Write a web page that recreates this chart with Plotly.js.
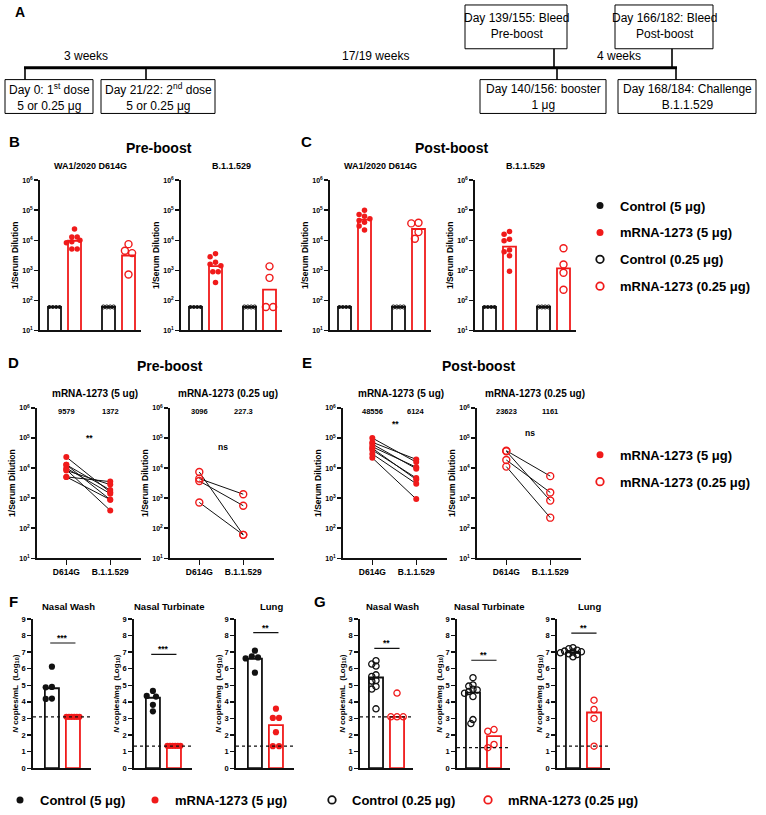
<!DOCTYPE html>
<html><head><meta charset="utf-8">
<script src="https://cdn.plot.ly/plotly-3.0.1.min.js"></script>
<style>html,body{margin:0;padding:0;background:#fff}#chart{width:766px;height:815px}</style>
</head><body><div id="chart"></div>
<script>
// ================= DATA =================
// Panel A – study timeline (labels)
const weekLabels = ['3 weeks', '17/19 weeks', '4 weeks'];
const eventsBelow = ['Day 0: 1<sup>st</sup> dose<br>5 or 0.25 μg', 'Day 21/22: 2<sup>nd</sup> dose<br>5 or 0.25 μg', 'Day 140/156: booster<br>1 μg', 'Day 168/184: Challenge<br>B.1.1.529'];
const eventsAbove = ['Day 139/155: Bleed<br>Pre-boost', 'Day 166/182: Bleed<br>Post-boost'];

// Groups
const groupNames = ['Control (5 μg)', 'mRNA-1273 (5 μg)', 'Control (0.25 μg)', 'mRNA-1273 (0.25 μg)'];

// Panels B–E: neutralizing titers (1/serum dilution)
const lodTiter = 60;
const ctrl5Titers = [60, 60, 60, 60];
const ctrl025Titers = [60, 60, 60, 60];
const pre5_D614G = [23400, 12900, 12900, 10000, 8900, 8300, 5100, 5100];
const pre5_B11529 = [1585, 891, 1862, 1413, 389, 2818, 3548, 891];
const pre025_D614G = [7400, 4470, 3720, 720];
const pre025_B11529 = [60, 1350, 560, 60];
const post5_D614G = [100000, 72400, 63100, 51300, 45700, 39800, 29500, 21900];
const post5_B11529 = [15800, 19500, 9550, 10700, 4170, 4680, 3020, 930];
const post025_D614G = [38000, 36300, 18600, 11200];
const post025_B11529 = [5400, 830, 1550, 224];
// geometric mean titers: [Control 5, mRNA 5, Control 0.25, mRNA 0.25]
const gmtPre_D614G = [60, 9579, 60, 3096];
const gmtPre_B11529 = [60, 1372, 60, 227.3];
const gmtPost_D614G = [60, 48556, 60, 23623];
const gmtPost_B11529 = [60, 6124, 60, 1161];
const variantTicks = ['D614G', 'B.1.1.529'];
const sigDE = ['**', 'ns', '**', 'ns'];
const sigDEHeights = [69000, 26300, 204000, 81000];

// Panels F (5 μg) and G (0.25 μg): N copies (log10)
const tissues = ['Nasal Wash', 'Nasal Turbinate', 'Lung'];
const tissueUnits = ['mL', 'mg', 'mg'];
const nwCtrl5 = [6.12, 4.90, 4.88, 4.20, 4.18];
const nwMrna5 = [3.10, 3.10, 3.10, 3.10, 3.10, 3.10];
const ntCtrl5 = [4.66, 4.36, 4.32, 3.82, 3.43];
const ntMrna5 = [1.35, 1.35, 1.35, 1.35, 1.35, 1.35];
const lungCtrl5 = [7.09, 6.75, 6.68, 6.62, 5.76];
const lungMrna5 = [3.59, 3.03, 3.03, 2.17, 1.33, 1.33];
const barsF_NW = [4.82, 3.10], barsF_NT = [4.25, 1.35], barsF_Lung = [6.60, 2.60];
const lodF = [3.10, 1.33, 1.33];
const sigF = ['***', '***', '**'];
const sigFHeights = [7.55, 6.87, 8.17];

const nwCtrl025 = [6.48, 6.28, 6.16, 5.63, 5.53, 5.29, 5.25, 4.93, 4.77, 3.58];
const nwMrna025 = [4.53, 3.10, 3.10, 3.10];
const ntCtrl025 = [5.46, 5.02, 4.95, 4.76, 4.72, 4.62, 4.52, 4.32, 2.93, 2.69];
const ntMrna025 = [2.33, 2.23, 1.43, 1.24];
const lungCtrl025 = [7.27, 7.20, 7.12, 7.06, 7.02, 7.00, 6.96, 6.90, 6.85, 6.72];
const lungMrna025 = [4.10, 3.54, 3.00, 1.33];
const barsG_NW = [5.47, 3.10], barsG_NT = [4.56, 1.93], barsG_Lung = [6.98, 3.36];
const lodG = [3.10, 1.24, 1.33];
const sigG = ['**', '**', '**'];
const sigGHeights = [7.22, 6.51, 8.15];

// ================= STYLE / LAYOUT =================
const W = 766, H = 815;
const fx = p => p / W, fy = p => 1 - p / H;
const RED = '#f01a1a', BLK = '#111111';
const FB = 'Liberation Sans, Arial, Helvetica, sans-serif';

const data = [];
const layout = {
  width: W, height: H, margin: {l: 0, r: 0, t: 0, b: 0},
  paper_bgcolor: '#ffffff', plot_bgcolor: 'rgba(0,0,0,0)',
  font: {family: FB, color: '#000'}, showlegend: true,
  shapes: [], annotations: []
};
let nAx = 0;
function makeAxes(xpx, ypx, xo, yo) {
  nAx++;
  const s = nAx === 1 ? '' : String(nAx);
  const common = {showline: true, linecolor: BLK, linewidth: 1.8, showgrid: false, zeroline: false,
    ticks: 'outside', tickcolor: BLK, tickwidth: 1.4, ticklen: 4, fixedrange: true};
  layout['xaxis' + s] = Object.assign({}, common, {domain: [fx(xpx[0]), fx(xpx[1])], anchor: 'y' + s}, xo);
  layout['yaxis' + s] = Object.assign({}, common, {domain: [fy(ypx[1]), fy(ypx[0])], anchor: 'x' + s}, yo);
  return {x: 'x' + s, y: 'y' + s};
}
function ann(text, xpx, ypx, size, extra) {
  layout.annotations.push(Object.assign({text: text, xref: 'paper', yref: 'paper', x: fx(xpx), y: fy(ypx),
    xanchor: 'center', yanchor: 'middle', showarrow: false,
    font: {family: FB, size: size, color: '#000', weight: 'bold'}}, extra || {}));
}
// beeswarm horizontal offsets (px)
function swarm(vals, toPx, sep, maxW) {
  const order = vals.map((v, i) => i).sort((a, b) => vals[b] - vals[a]);
  const placed = [], off = new Array(vals.length).fill(0);
  order.forEach(i => {
    const py = toPx(vals[i]);
    for (let k = 0; k < 80; k++) {
      const c = k === 0 ? 0 : (k % 2 ? -1 : 1) * Math.ceil(k / 2) * sep / 2;
      if (placed.every(p => Math.hypot(p[0] - c, p[1] - py) >= sep - 0.01)) { off[i] = c; placed.push([c, py]); break; }
    }
  });
  const seen = {};
  vals.forEach((v, i) => { (seen[v] = seen[v] || []).push(i); });
  Object.values(seen).forEach(ids => {
    if (ids.length < 2) return;
    const n = ids.length, step = Math.min(sep, maxW / (n - 1 || 1));
    ids.forEach((id, j) => { off[id] = (j - (n - 1) / 2) * step; });
  });
  return off;
}
const lg = v => Math.log10(v);

// ---------- Panel A ----------
const lineA = (x0, y0, x1, y1, w) => layout.shapes.push({type: 'line', xref: 'paper', yref: 'paper',
  x0: fx(x0), y0: fy(y0), x1: fx(x1), y1: fy(y1), line: {color: '#000', width: w}});
const rectA = (x0, y0, x1, y1) => layout.shapes.push({type: 'rect', xref: 'paper', yref: 'paper',
  x0: fx(x0), y0: fy(y0), x1: fx(x1), y1: fy(y1), line: {color: '#000', width: 1}, fillcolor: 'rgba(0,0,0,0)'});
const aFont = {family: FB, size: 12, color: '#000'};
ann('A', 20, 12, 14);
lineA(24, 68, 677, 68, 3);
const belowBoxes = [[5, 93, 25], [101, 215, 146], [480, 606, 557], [618, 756, 676]];
belowBoxes.forEach((b, i) => {
  lineA(b[2], 68, b[2], 80, 1.6);
  rectA(b[0], 80, b[1], 114);
  ann(eventsBelow[i], (b[0] + b[1]) / 2, 97, 12, {font: aFont});
});
const aboveBoxes = [[465, 567, 554], [615, 713, 672]];
aboveBoxes.forEach((b, i) => {
  lineA(b[2], 49, b[2], 68, 1.6);
  rectA(b[0], 5, b[1], 49);
  ann(eventsAbove[i], (b[0] + b[1]) / 2, 26, 12, {font: aFont});
});
[[86, 56], [375, 56], [619, 56]].forEach((p, i) => ann(weekLabels[i], p[0], p[1], 12, {font: aFont}));

// ---------- Panels B & C ----------
const logTicks = {type: 'log', range: [1, 6], tickvals: [10, 100, 1e3, 1e4, 1e5, 1e6],
  ticktext: [1, 2, 3, 4, 5, 6].map(e => '10<sup>' + e + '</sup>')};
const groupX = [0, 1, 2.7, 3.7];
const gStyle = [
  {color: BLK, symbol: 'circle', size: 3.8, lw: 0, sep: 3.4},
  {color: RED, symbol: 'circle', size: 5.5, lw: 0, sep: 5.4},
  {color: BLK, symbol: 'circle-open', size: 4, lw: 1, sep: 3.4},
  {color: RED, symbol: 'circle-open', size: 7, lw: 1.4, sep: 7.2}
];
const row1Y = [181, 332];
const row1 = [
  {t: 'WA1/2020 D614G', px: [40, 141], g: [ctrl5Titers, pre5_D614G, ctrl025Titers, pre025_D614G], gmt: gmtPre_D614G},
  {t: 'B.1.1.529', px: [181, 282], g: [ctrl5Titers, pre5_B11529, ctrl025Titers, pre025_B11529], gmt: gmtPre_B11529},
  {t: 'WA1/2020 D614G', px: [330, 431], g: [ctrl5Titers, post5_D614G, ctrl025Titers, post025_D614G], gmt: gmtPost_D614G},
  {t: 'B.1.1.529', px: [475, 576], g: [ctrl5Titers, post5_B11529, ctrl025Titers, post025_B11529], gmt: gmtPost_B11529}
];
const ppdLog1 = (row1Y[1] - row1Y[0]) / 5;
row1.forEach(p => {
  const ax = makeAxes(p.px, row1Y, {range: [-0.725, 4.325], showticklabels: false, ticks: ''},
    Object.assign({}, logTicks, {tickfont: {family: FB, size: 7, weight: 'bold'},
      title: {text: '1/Serum Dilution', font: {family: FB, size: 8.5, weight: 'bold'}, standoff: 2}}));
  const pxPerUnit = (p.px[1] - p.px[0]) / 5.05;
  data.push({type: 'bar', xaxis: ax.x, yaxis: ax.y, x: groupX, y: p.gmt, width: 0.65, showlegend: false,
    marker: {color: 'rgba(255,255,255,0)', line: {color: [BLK, RED, BLK, RED], width: 1.8}}, hoverinfo: 'skip'});
  layout.shapes.push({type: 'line', xref: ax.x + ' domain', yref: ax.y, x0: 0, x1: 1, y0: lg(lodTiter), y1: lg(lodTiter),
    line: {color: BLK, width: 1.3, dash: 'dot'}});
  p.g.forEach((vals, gi) => {
    const st = gStyle[gi];
    const off = swarm(vals, v => lg(v) * ppdLog1, st.sep, 12);
    data.push({type: 'scatter', mode: 'markers', xaxis: ax.x, yaxis: ax.y, cliponaxis: false, showlegend: false,
      x: vals.map((v, i) => groupX[gi] + off[i] / pxPerUnit), y: vals,
      marker: {color: st.color, symbol: st.symbol, size: st.size, line: {color: st.color, width: st.lw}}});
  });
  ann(p.t, (p.px[0] + p.px[1]) / 2, 167, 9);
});
ann('B', 14, 142, 15); ann('C', 306, 142, 15);
ann('Pre-boost', 159, 149, 14); ann('Post-boost', 451, 149, 14);

// ---------- Panels D & E ----------
const row2Y = [410, 561];
const row2 = [
  {t: 'mRNA-1273 (5 ug)', px: [37, 141], a: pre5_D614G, b: pre5_B11529, ga: gmtPre_D614G[1], gb: gmtPre_B11529[1], st: gStyle[1]},
  {t: 'mRNA-1273 (0.25 ug)', px: [170, 274], a: pre025_D614G, b: pre025_B11529, ga: gmtPre_D614G[3], gb: gmtPre_B11529[3], st: gStyle[3]},
  {t: 'mRNA-1273 (5 ug)', px: [343, 447], a: post5_D614G, b: post5_B11529, ga: gmtPost_D614G[1], gb: gmtPost_B11529[1], st: gStyle[1]},
  {t: 'mRNA-1273 (0.25 ug)', px: [477, 581], a: post025_D614G, b: post025_B11529, ga: gmtPost_D614G[3], gb: gmtPost_B11529[3], st: gStyle[3]}
];
row2.forEach((p, k) => {
  const ax = makeAxes(p.px, row2Y,
    {range: [-0.667, 1.70], tickvals: [0, 1], ticktext: variantTicks, ticklen: 5,
      tickfont: {family: FB, size: 8.5, weight: 'bold'}},
    Object.assign({}, logTicks, {tickfont: {family: FB, size: 7, weight: 'bold'},
      title: {text: '1/Serum Dilution', font: {family: FB, size: 8.5, weight: 'bold'}, standoff: 2}}));
  const lx = [], ly = [];
  p.a.forEach((v, i) => { lx.push(0, 1, null); ly.push(v, p.b[i], null); });
  data.push({type: 'scatter', mode: 'lines', xaxis: ax.x, yaxis: ax.y, x: lx, y: ly, showlegend: false,
    line: {color: BLK, width: 1}, hoverinfo: 'skip'});
  const sz = p.st.symbol === 'circle' ? 6 : 7;
  data.push({type: 'scatter', mode: 'markers', xaxis: ax.x, yaxis: ax.y, cliponaxis: false, showlegend: false,
    x: p.a.map(() => 0).concat(p.b.map(() => 1)), y: p.a.concat(p.b),
    marker: {color: p.st.color, symbol: p.st.symbol, size: sz, line: {color: p.st.color, width: p.st.lw}}});
  layout.shapes.push({type: 'line', xref: ax.x + ' domain', yref: ax.y, x0: 0, x1: 0.83, y0: lg(lodTiter), y1: lg(lodTiter),
    line: {color: BLK, width: 1.3, dash: 'dot'}});
  layout.shapes.push({type: 'line', xref: ax.x, yref: ax.y, x0: 0.1, x1: 0.97, y0: lg(sigDEHeights[k]), y1: lg(sigDEHeights[k]),
    line: {color: BLK, width: 1.2}});
  layout.annotations.push({xref: ax.x, yref: ax.y, x: 0.53, y: lg(sigDEHeights[k]), yanchor: 'bottom', yshift: sigDE[k] === 'ns' ? 1 : -2,
    text: sigDE[k], showarrow: false, font: {family: FB, size: 8.5, weight: 'bold', color: '#000'}});
  [p.ga, p.gb].forEach((g, j) => layout.annotations.push({xref: ax.x, yref: ax.y, x: j, y: 5.88, text: String(g),
    showarrow: false, font: {family: FB, size: 7.5, weight: 'bold', color: '#000'}}));
  ann(p.t, (p.px[0] + p.px[1]) / 2 + 6, 395, 10);
});
ann('D', 13, 364, 15); ann('E', 307, 364, 15);
ann('Pre-boost', 170, 368, 14); ann('Post-boost', 479, 368, 14);

// ---------- Panels F & G ----------
const row3Y = [622, 772];
const ppu3 = (row3Y[1] - row3Y[0]) / 9;
const fPanels = [
  {px: [33, 91], c: nwCtrl5, m: nwMrna5, bars: barsF_NW},
  {px: [134, 192], c: ntCtrl5, m: ntMrna5, bars: barsF_NT},
  {px: [236, 294], c: lungCtrl5, m: lungMrna5, bars: barsF_Lung}
];
const gPanels = [
  {px: [360, 413], c: nwCtrl025, m: nwMrna025, bars: barsG_NW},
  {px: [457, 510], c: ntCtrl025, m: ntMrna025, bars: barsG_NT},
  {px: [557, 610], c: lungCtrl025, m: lungMrna025, bars: barsG_Lung}
];
function drawRow3(panels, isF, lods, sigs, sigH) {
  panels.forEach((p, k) => {
    const lo = isF ? -0.9 : -0.76;
    const hi = isF ? 1.86 : 1.76;
    const ax = makeAxes(p.px, row3Y, {range: [lo, hi], showticklabels: false, ticks: ''},
      {range: [0, 9], dtick: 1, tick0: 0, tickfont: {family: FB, size: 7.5, weight: 'bold'},
        title: {text: '<i>N</i> copies/' + tissueUnits[k] + '  (Log<sub>10</sub>)', font: {family: FB, size: 8, weight: 'bold'}, standoff: 2}});
    const pxPerUnit = (p.px[1] - p.px[0]) / (hi - lo);
    data.push({type: 'bar', xaxis: ax.x, yaxis: ax.y, x: [0, 1], y: p.bars, width: 0.67, showlegend: false,
      marker: {color: 'rgba(255,255,255,0)', line: {color: [BLK, RED], width: 1.8}}, hoverinfo: 'skip'});
    layout.shapes.push({type: 'line', xref: ax.x + ' domain', yref: ax.y, x0: 0, x1: 1, y0: lods[k], y1: lods[k],
      line: {color: BLK, width: 1.3, dash: 'dot'}});
    const sC = isF ? gStyle[0] : gStyle[2], sM = isF ? gStyle[1] : gStyle[3];
    [[p.c, sC, 0, isF ? 6.2 : 4.2], [p.m, sM, 1, 6.2]].forEach(([vals, st, xi, sep]) => {
      const off = swarm(vals, v => v * ppu3, sep, 13);
      data.push({type: 'scatter', mode: 'markers', xaxis: ax.x, yaxis: ax.y, cliponaxis: false, showlegend: false,
        x: vals.map((v, i) => xi + off[i] / pxPerUnit), y: vals,
        marker: {color: st.color, symbol: st.symbol, size: 6.2, line: {color: st.color, width: st.lw ? 1.3 : 0}}});
    });
    layout.shapes.push({type: 'line', xref: ax.x, yref: ax.y, x0: -0.08, x1: 1.12, y0: sigH[k], y1: sigH[k],
      line: {color: BLK, width: 1.2}});
    layout.annotations.push({xref: ax.x, yref: ax.y, x: 0.52, y: sigH[k], yanchor: 'bottom', yshift: -2,
      text: sigs[k], showarrow: false, font: {family: FB, size: 8.5, weight: 'bold', color: '#000'}});
    ann(tissues[k], (p.px[0] + p.px[1]) / 2 + 6, 609, 9.5);
  });
}
drawRow3(fPanels, true, lodF, sigF, sigFHeights);
drawRow3(gPanels, false, lodG, sigG, sigGHeights);
ann('F', 13, 604, 15); ann('G', 320, 604, 15);

// ---------- Legends ----------
const legFont = {family: FB, size: 13, color: '#000', weight: 'bold'};
function legTrace(name, gi, legend) {
  const st = gStyle[gi];
  data.push({type: 'scatter', mode: 'markers', x: [null], y: [null], xaxis: 'x', yaxis: 'y', name: name,
    legend: legend, legendgroup: legend + gi, showlegend: true,
    marker: {color: st.color, symbol: st.symbol, size: st.symbol === 'circle' ? 7 : 7.5, line: {color: st.color, width: st.lw ? 1.8 : 0}}});
}
groupNames.forEach((n, i) => legTrace(n, i, 'legend'));
[1, 3].forEach(i => legTrace(groupNames[i], i, 'legend2'));
groupNames.forEach((n, i) => legTrace(n, i, 'legend' + (3 + i)));
const legBase = {xanchor: 'left', yanchor: 'top', bgcolor: 'rgba(0,0,0,0)', borderwidth: 0, font: legFont,
  tracegroupgap: 7, itemclick: false, itemdoubleclick: false};
layout.legend = Object.assign({}, legBase, {x: fx(580), y: fy(191.5)});
layout.legend2 = Object.assign({}, legBase, {x: fx(580), y: fy(442)});
[15, 152, 329, 485].forEach((mx, i) => {
  layout['legend' + (3 + i)] = Object.assign({}, legBase, {x: fx(Math.max(0, mx - 17)), y: fy(789)});
});

Plotly.newPlot('chart', data, layout, {displayModeBar: false, staticPlot: true});
</script>
</body></html>
